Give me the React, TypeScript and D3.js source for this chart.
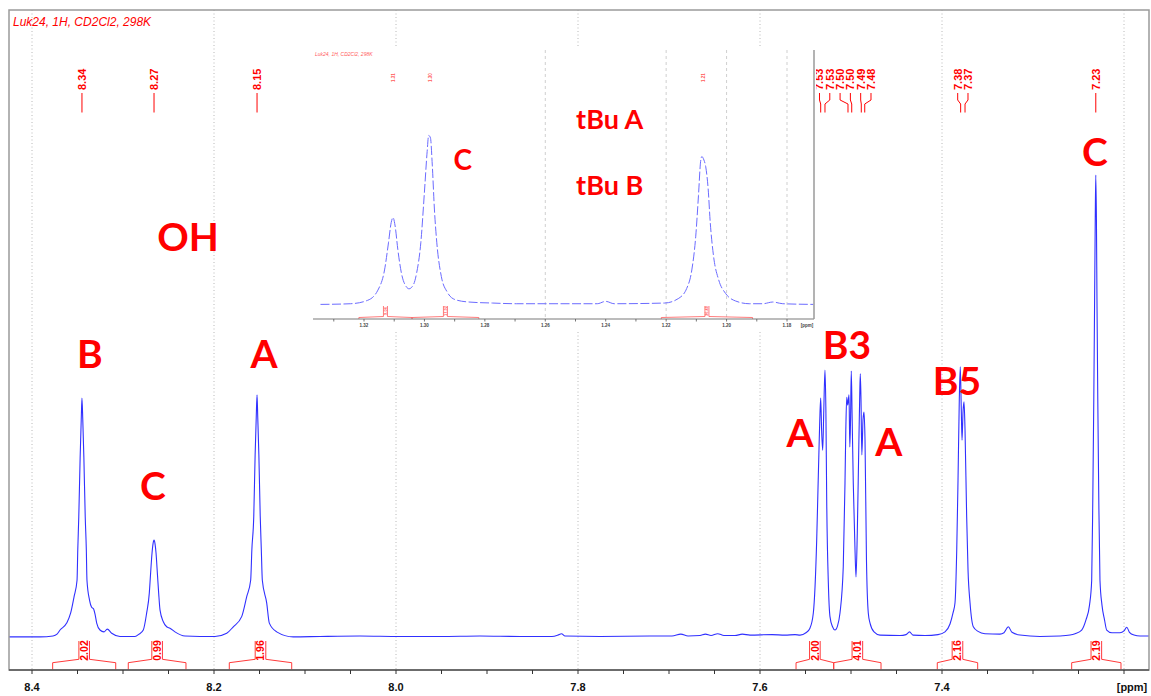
import * as d3 from 'd3';

// 1H NMR (CD2Cl2, 298K) aromatic region with tBu inset
// Trace: chemical shift in ppm, intensity in % of the 7.23 ppm peak

const specPpm = [
  8.4253, 8.3912, 8.3769, 8.3725, 8.3692, 8.3619, 8.3575, 8.3538, 8.3505, 8.3497, 8.3486,
  8.3471, 8.3459, 8.3451, 8.3442, 8.343, 8.3415, 8.3403, 8.3396, 8.3368, 8.3346, 8.3324,
  8.3308, 8.3289, 8.3253, 8.3209, 8.3173, 8.3124, 8.3033, 8.2868, 8.2824, 8.2777,
  8.274, 8.2711, 8.2698, 8.2681, 8.267, 8.2659, 8.2648, 8.2637, 8.2621, 8.2608,
  8.2593, 8.2557, 8.252, 8.2484, 8.2429, 8.2319, 8.2154, 8.1989, 8.186, 8.1788,
  8.1696, 8.1641, 8.1597, 8.1584, 8.1563, 8.1548, 8.1536, 8.1527, 8.1519, 8.1507, 8.1492,
  8.148, 8.1469, 8.1421, 8.1392, 8.1311, 8.1129, 8.0835, 8.0396, 7.9956, 7.9516, 7.9077,
  7.8637, 7.8286, 7.822, 7.8181, 7.8143, 7.7758, 7.7209, 7.6967, 7.687, 7.6791,
  7.6659, 7.66, 7.6538, 7.6465, 7.6396, 7.6275, 7.6195, 7.611, 7.5868, 7.5725,
  7.5615, 7.556, 7.5495, 7.5451, 7.5414, 7.5377, 7.5363, 7.5352, 7.5343, 7.5333,
  7.5323, 7.5311, 7.5299, 7.5286, 7.5276, 7.5267, 7.5249, 7.5231, 7.5203, 7.5176,
  7.5148, 7.5121, 7.5085, 7.5066, 7.5057, 7.5047, 7.5036, 7.5022, 7.5013, 7.5005,
  7.4997, 7.4987, 7.4975, 7.4956, 7.4945, 7.4931, 7.4915, 7.4905, 7.4898, 7.489,
  7.4881, 7.4868, 7.4857, 7.4846, 7.483, 7.481, 7.4791, 7.4747, 7.4681, 7.4462,
  7.4396, 7.4357, 7.4319, 7.4187, 7.4044, 7.3967, 7.3912, 7.3879, 7.3857, 7.3838,
  7.3824, 7.381, 7.3799, 7.3789, 7.378, 7.3769, 7.3758, 7.3747, 7.3729, 7.3714,
  7.3692, 7.3656, 7.3604, 7.3527, 7.3363, 7.3319, 7.3271, 7.3231, 7.3143, 7.2923,
  7.2703, 7.2593, 7.2538, 7.2465, 7.2418, 7.2379, 7.2355, 7.2343, 7.2332, 7.2323,
  7.2316, 7.231, 7.2303, 7.2297, 7.2288, 7.2277, 7.2264, 7.2242, 7.2214, 7.219,
  7.2132, 7.2044, 7.2, 7.197, 7.194, 7.189, 7.1824, 7.1725,
];
const specInt = [
  -0.2, -0.2, 0, 0.4, 1.3, 2.8, 5.0, 8.5, 12.1, 18.7, 25.8,
  38.7, 46.9, 51.6, 46.9, 38.7, 25.8, 18.7, 12.1, 7.8, 6.3, 5.9,
  4.8, 2.8, 1.3, 0.9, 1.5, 0.6, -0.1, -0.1, 0.4, 1.3,
  5.0, 9.3, 13.2, 18.0, 20.0, 20.8, 20.0, 18.0, 13.2, 9.3,
  5.6, 3.1, 2.0, 1.7, 0.9, 0, -0.1, -0.1, 0.6, 2.0,
  4.2, 8.5, 12.1, 18.7, 26.0, 39.3, 47.3, 52.3, 47.3, 39.3, 26.0,
  18.7, 12.1, 7.2, 2.8, 0.9, -0.2, -0.1, 0, -0.1, -0.1, 0,
  -0.1, -0.1, 0.2, 0.5, 0, -0.1, 0, 0, 0.4, 0,
  0.1, 0.4, 0.1, 0.5, 0.1, 0.1, 0.4, 0.2, 0.3, 0.2,
  0.3, 0.2, 0.7, 1.7, 5.0, 20.8, 31.7, 40.3, 46.9, 51.6,
  44.7, 40.3, 49.0, 57.7, 49.0, 29.5, 11.5, 4.2, 2.0, 1.3,
  2.2, 5.0, 15.0, 33.2, 44.7, 51.8, 50.1, 52.3, 41.0, 46.9,
  57.5, 46.9, 33.2, 18.7, 12.8, 22.3, 40.3, 51.2, 56.9, 51.2,
  39.3, 46.9, 48.6, 42.5, 16.5, 5.0, 2.8, 0.9, 0.2, 0.1,
  0.3, 0.9, 0.2, 0.1, 0.3, 0.9, 2.6, 5.0, 7.2, 18.7,
  33.8, 51.2, 58.4, 50.1, 42.5, 48.6, 50.8, 44.7, 25.9, 14.3,
  7.2, 2.0, 1.0, 0.5, 0.4, 0.7, 2.0, 0.8, 0.2, -0.1,
  0, 0.2, 0.5, 1.3, 3.5, 6.7, 12.1, 29.5, 51.2, 72.9,
  90.2, 100, 90.2, 72.9, 51.2, 29.5, 12.1, 6.7, 3.5, 1.3,
  0.7, 0.7, 1.1, 1.9, 0.8, 0.2, 0, 0,
];

// picked peaks (top labels)
const peakPpm = [8.3451, 8.2659, 8.1527, 7.5333, 7.5286, 7.5033, 7.4992, 7.4887, 7.4849, 7.3795, 7.3747, 7.231];
const peakText = ['8.34', '8.27', '8.15', '7.53', '7.53', '7.50', '7.50', '7.49', '7.48', '7.38', '7.37', '7.23'];

// integrals: ppm ranges and values
const intFrom = [8.3773, 8.2942, 8.1832, 7.5604, 7.519, 7.4052, 7.2575];
const intTo = [8.308, 8.2308, 8.1146, 7.519, 7.467, 7.3608, 7.2033];
const intValue = ['2.02', '0.99', '1.96', '2.00', '4.01', '2.16', '2.19'];

// axis ticks
const majorTicks = [8.4, 8.2, 8.0, 7.8, 7.6, 7.4, 7.2];
const minorTicks = d3.range(0, 25).map((i) => +(8.4 - i * 0.05).toFixed(2));

// assignment labels
const annoText = ['OH', 'B', 'C', 'A', 'B3', 'A', 'A', 'B5', 'C'];
const annoPpm = [8.2286, 8.3363, 8.267, 8.1451, 7.5044, 7.556, 7.4584, 7.3835, 7.2319];
const annoInt = [83.5, 58.1, 29.5, 58.1, 60.1, 41.0, 39.0, 52.3, 102.0];

// inset: tBu region
const insetPpm = [
  1.3344, 1.3244, 1.3188, 1.3154, 1.3132, 1.3119, 1.311, 1.3104, 1.3097, 1.3088,
  1.3076, 1.306, 1.3051, 1.3037, 1.3026, 1.3012, 1.3, 1.2991, 1.2986, 1.298,
  1.2974, 1.2967, 1.2959, 1.2944, 1.2925, 1.2898, 1.2853, 1.2775, 1.2696, 1.2428,
  1.24, 1.2372, 1.2205, 1.216, 1.2132, 1.2115, 1.2102, 1.2093, 1.2086, 1.2082,
  1.2075, 1.2069, 1.2061, 1.2054, 1.2043, 1.2026, 1.2003, 1.197, 1.1925, 1.188,
  1.1847, 1.1814, 1.1713,
];
const insetInt = [
  0, 0.4, 2.4, 8.4, 20.3, 36.3, 48.2, 51.2, 46.2, 32.3,
  18.3, 10.4, 9.2, 11.4, 18.3, 36.3, 66.2, 90.0, 99.6, 98.1,
  82.1, 56.2, 36.3, 16.4, 7.4, 2.8, 1.4, 0.8, 0.4, 0.4,
  1.8, 0.4, 0.8, 3.4, 9.4, 20.3, 40.2, 64.2, 84.1, 87.1,
  85.1, 81.1, 68.2, 48.2, 28.3, 14.4, 6.4, 2.0, 0.4, 0.4,
  1.4, 0.4, 0,
];
const insetPeakPpm = [1.3104, 1.298, 1.2075];
const insetPeakText = ['1.31', '1.30', '1.21'];
const insetIntFrom = [1.3217, 1.3041, 1.2216];
const insetIntTo = [1.3041, 1.282, 1.1914];
const insetIntValue = ['9.06', '17.92', '36.40'];
const insetMajor = [1.32, 1.3, 1.28, 1.26, 1.24, 1.22, 1.2, 1.18];
const insetMinor = d3.range(0, 16).map((i) => +(1.33 - i * 0.01).toFixed(2));
const insetGrid = [1.26, 1.22, 1.2, 1.18];
const insetAnnoText = ['C', 'tBu A', 'tBu B'];
const insetAnnoPpm = [1.2873, 1.2498, 1.2498];
const insetAnnoInt = [79.2, 103.1, 64.5];

const RED = '#ff0000';
const AXIS_FONT = "'Liberation Sans', Arial, sans-serif";
const LABEL_FONT = "Lato, 'Open Sans', sans-serif";

// spread labels of close peaks evenly around the group centre
const spreadLabels = (xs, groupGap, spacing) => {
  const out = [];
  let i = 0;
  while (i < xs.length) {
    let j = i;
    while (j + 1 < xs.length && xs[j + 1] - xs[j] < groupGap) j++;
    const group = xs.slice(i, j + 1);
    const mid = d3.mean(group);
    group.forEach((_, k) => out.push(mid + (k - (group.length - 1) / 2) * spacing));
    i = j + 1;
  }
  return out;
};

const brace = (xl, xr, yBase, yEnd, yMid, yTop, half) => {
  const m = (xl + xr) / 2;
  return `M${xl},${yBase}V${yEnd}L${m - half},${yMid}V${yTop}M${m + half},${yTop}V${yMid}L${xr},${yEnd}V${yBase}`;
};

const App = () => {
  const frame = { left: 9, right: 1149, top: 10, bottom: 670 };
  const x = d3.scaleLinear().domain([8.4, 7.2]).range([32, 1124]);
  const y = d3.scaleLinear().domain([0, 100]).range([636, 175]);

  const inset = { left: 312, right: 814, top: 48, axis: 319, bottom: 331 };
  const ix = d3.scaleLinear().domain([1.32, 1.18]).range([364, 787]);
  const iy = d3.scaleLinear().domain([0, 100]).range([304.4, 134.7]);

  const line = d3
    .line()
    .x((d) => x(d[0]))
    .y((d) => y(d[1]))
    .curve(d3.curveMonotoneX);
  const insetLine = d3
    .line()
    .x((d) => ix(d[0]))
    .y((d) => iy(d[1]))
    .curve(d3.curveMonotoneX);

  const specPath = line(specPpm.map((p, i) => [p, specInt[i]]));
  const insetPath = insetLine(insetPpm.map((p, i) => [p, insetInt[i]]));

  const peakX = peakPpm.map((p) => x(p));
  const labelX = spreadLabels(peakX, 25, 10.3);

  return (
    <div style={{ position: 'absolute', left: 0, top: 0 }}>
      <svg width={1151} height={696} style={{ display: 'block', background: '#fff' }}>
        {/* grid */}
        {majorTicks.map((t) => (
          <line
            key={`g${t}`}
            x1={x(t)}
            x2={x(t)}
            y1={frame.top}
            y2={frame.bottom}
            stroke="#b8b8b8"
            strokeDasharray="1 2.5"
          />
        ))}

        {/* spectrum */}
        <path d={specPath} fill="none" stroke="#3030ff" strokeWidth={1.1} />

        {/* integrals */}
        {intFrom.map((p, i) => {
          const xl = x(p);
          const xr = x(intTo[i]);
          const m = (xl + xr) / 2;
          return (
            <g key={`int${i}`}>
              <path d={brace(xl, xr, frame.bottom, 662.7, 659.3, 641, 5.3)} fill="none" stroke="#ff3a3a" strokeWidth={1} />
              <text
                x={m}
                y={650.5}
                transform={`rotate(-90,${m},650.5)`}
                textAnchor="middle"
                dy="0.35em"
                fontFamily={AXIS_FONT}
                fontWeight="bold"
                fontSize={10.5}
                fill={RED}
              >
                {intValue[i]}
              </text>
            </g>
          );
        })}

        {/* peak picking labels */}
        {peakX.map((px, i) => (
          <g key={`pk${i}`}>
            <path d={`M${labelX[i]},93V100L${px},104V112.5`} fill="none" stroke={RED} strokeWidth={1} />
            <text
              x={labelX[i]}
              y={90}
              transform={`rotate(-90,${labelX[i]},90)`}
              dy="0.35em"
              fontFamily={AXIS_FONT}
              fontWeight="bold"
              fontSize={11}
              fill={RED}
            >
              {peakText[i]}
            </text>
          </g>
        ))}

        {/* frame and axis */}
        <rect
          x={frame.left}
          y={frame.top}
          width={frame.right - frame.left}
          height={frame.bottom - frame.top}
          fill="none"
          stroke="#9a9a9a"
          strokeWidth={1.5}
        />
        <line x1={frame.left} x2={frame.right} y1={frame.bottom} y2={frame.bottom} stroke="#555" strokeWidth={1.5} />
        {minorTicks.map((t) => (
          <line key={`t${t}`} x1={x(t)} x2={x(t)} y1={frame.bottom} y2={frame.bottom + 4} stroke="#333" />
        ))}
        {majorTicks.slice(0, -1).map((t) => (
          <text
            key={`l${t}`}
            x={x(t)}
            y={690.5}
            textAnchor="middle"
            fontFamily={AXIS_FONT}
            fontWeight="bold"
            fontSize={11}
            fill="#111"
          >
            {t.toFixed(1)}
          </text>
        ))}
        <text x={1132} y={690.5} textAnchor="middle" fontFamily={AXIS_FONT} fontWeight="bold" fontSize={11} fill="#111">
          [ppm]
        </text>

        <text x={13} y={26} fontFamily={AXIS_FONT} fontStyle="italic" fontSize={12} fill={RED}>
          Luk24,  1H, CD2Cl2, 298K
        </text>

        {/* assignments */}
        {annoText.map((t, i) => (
          <text
            key={`a${i}`}
            x={x(annoPpm[i])}
            y={y(annoInt[i])}
            textAnchor="middle"
            fontFamily={LABEL_FONT}
            fontWeight="bold"
            fontSize={39}
            fill={RED}
          >
            {t}
          </text>
        ))}

        {/* inset */}
        <rect x={inset.left} y={inset.top} width={inset.right - inset.left + 2} height={inset.bottom - inset.top} fill="#fff" />
        {insetGrid.map((t) => (
          <line
            key={`ig${t}`}
            x1={ix(t)}
            x2={ix(t)}
            y1={inset.top + 2}
            y2={inset.axis}
            stroke="#cfcfcf"
            strokeDasharray="3 3"
          />
        ))}
        <text x={315} y={55.5} fontFamily={AXIS_FONT} fontStyle="italic" fontSize={5} fill="#ff5a5a">
          Luk24,  1H, CD2Cl2, 298K
        </text>
        {insetPeakPpm.map((p, i) => (
          <text
            key={`ip${i}`}
            x={ix(p)}
            y={82}
            transform={`rotate(-90,${ix(p)},82)`}
            dy="0.35em"
            fontFamily={AXIS_FONT}
            fontWeight="bold"
            fontSize={4.5}
            fill="#ff5a5a"
          >
            {insetPeakText[i]}
          </text>
        ))}
        <path d={insetPath} fill="none" stroke="#6b6bff" strokeWidth={1} strokeDasharray="9 2.5" />
        {insetIntFrom.map((p, i) => {
          const xl = ix(p);
          const xr = ix(insetIntTo[i]);
          const m = (xl + xr) / 2;
          return (
            <g key={`ii${i}`}>
              <path d={brace(xl, xr, inset.axis, 317.5, 316.5, 306, 2)} fill="none" stroke="#ff5a5a" strokeWidth={0.8} />
              <text
                x={m}
                y={311}
                transform={`rotate(-90,${m},311)`}
                textAnchor="middle"
                dy="0.35em"
                fontFamily={AXIS_FONT}
                fontWeight="bold"
                fontSize={4}
                fill="#ff5a5a"
              >
                {insetIntValue[i]}
              </text>
            </g>
          );
        })}
        <line x1={inset.left + 1} x2={inset.right} y1={inset.axis} y2={inset.axis} stroke="#7a7a7a" strokeWidth={1.2} />
        <line x1={inset.right} x2={inset.right} y1={inset.top + 2} y2={inset.axis} stroke="#9a9a9a" strokeWidth={1.5} />
        {insetMinor.map((t) => (
          <line key={`it${t}`} x1={ix(t)} x2={ix(t)} y1={inset.axis} y2={inset.axis + 2.5} stroke="#555" strokeWidth={0.8} />
        ))}
        {insetMajor.map((t) => (
          <text
            key={`il${t}`}
            x={ix(t)}
            y={327}
            textAnchor="middle"
            fontFamily={AXIS_FONT}
            fontWeight="bold"
            fontSize={4.5}
            fill="#444"
          >
            {t.toFixed(2)}
          </text>
        ))}
        <text x={807} y={327} textAnchor="middle" fontFamily={AXIS_FONT} fontWeight="bold" fontSize={4.5} fill="#444">
          [ppm]
        </text>
        {insetAnnoText.map((t, i) => (
          <text
            key={`ia${i}`}
            x={ix(insetAnnoPpm[i])}
            y={iy(insetAnnoInt[i])}
            textAnchor={i === 0 ? 'middle' : 'start'}
            fontFamily={LABEL_FONT}
            fontWeight="bold"
            fontSize={i === 0 ? 28 : 27}
            fill={RED}
          >
            {t}
          </text>
        ))}
      </svg>
    </div>
  );
};

export default App;
